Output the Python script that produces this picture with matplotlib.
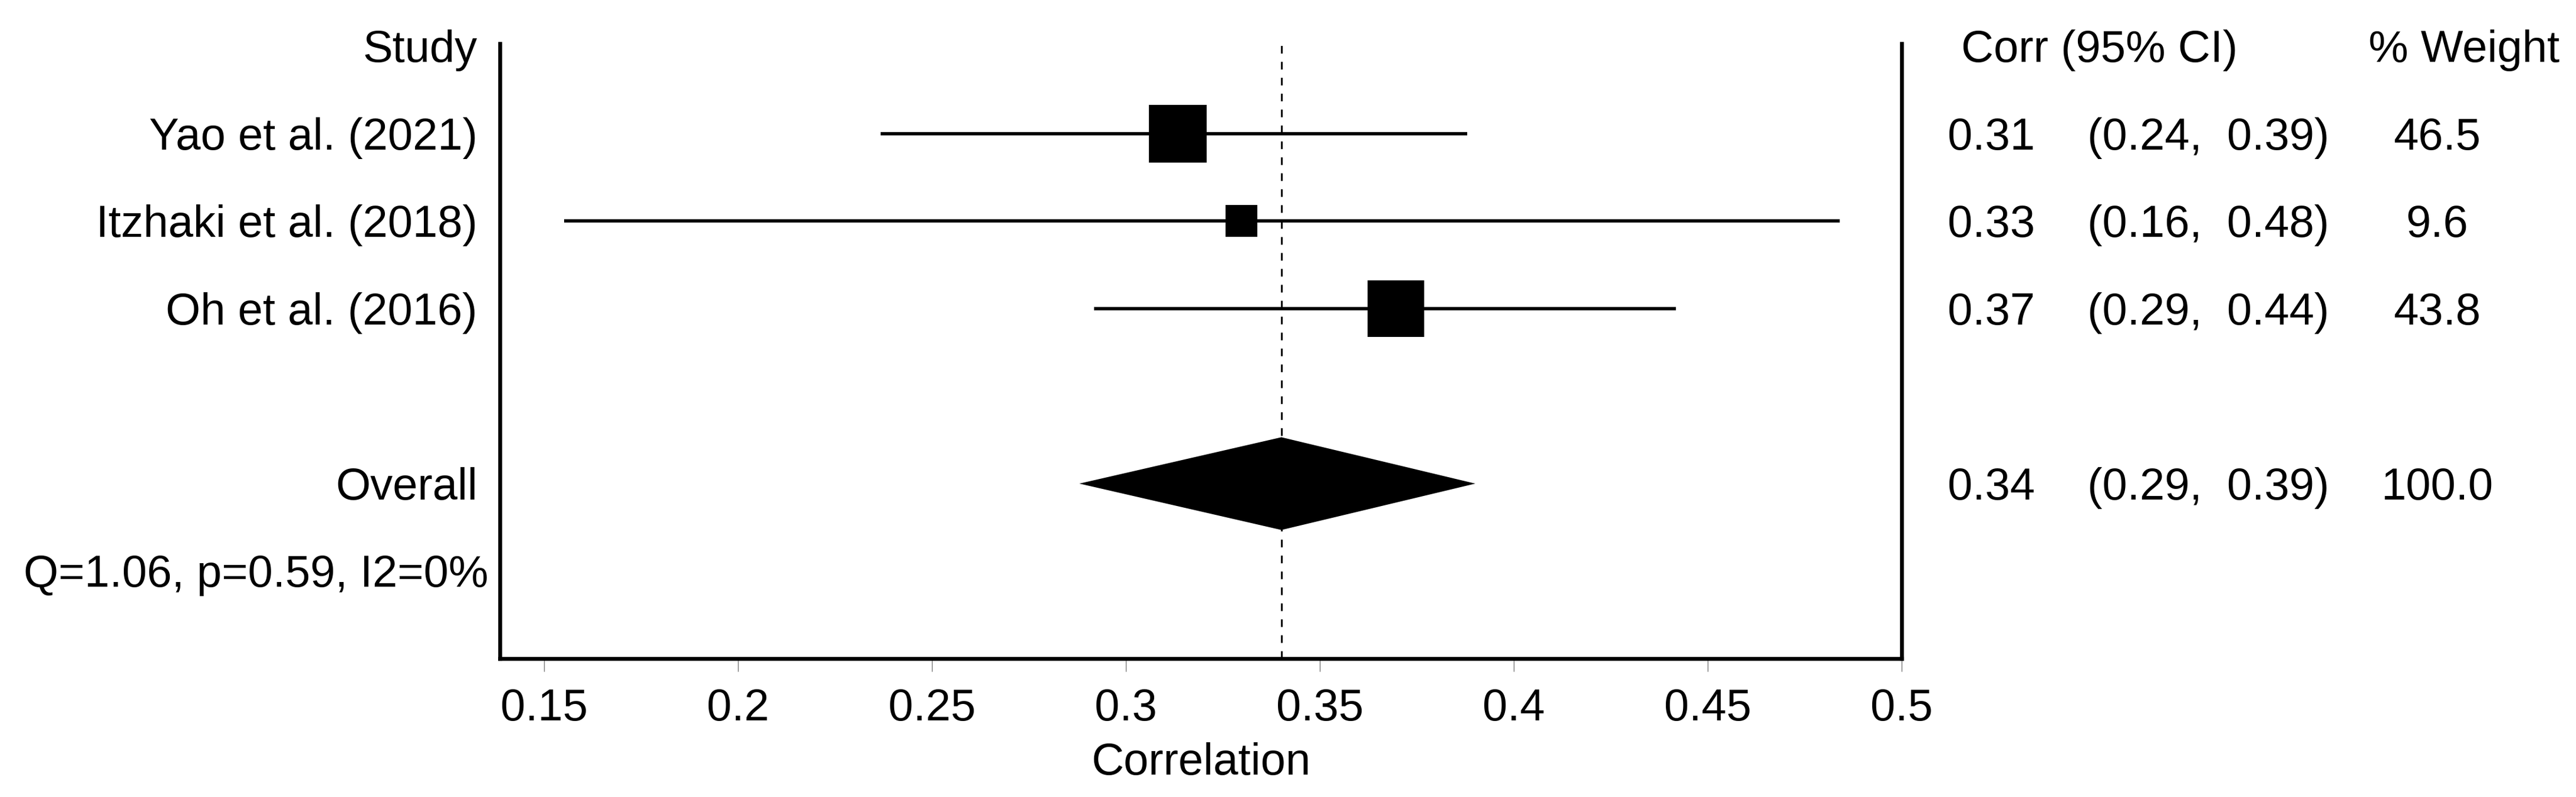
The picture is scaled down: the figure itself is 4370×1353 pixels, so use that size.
import matplotlib
matplotlib.use("Agg")
import matplotlib.pyplot as plt
import matplotlib.transforms as mtransforms
import numpy as np

plt.rcParams['font.family'] = ['Liberation Sans', 'DejaVu Sans']

# study data
studies = ["Yao et al. (2021)", "Itzhaki et al. (2018)", "Oh et al. (2016)"]
corr = [0.3134, 0.3298, 0.3696]
ci_low = [0.2368, 0.1552, 0.2918]
ci_high = [0.388, 0.484, 0.4418]
weight = [46.5, 9.6, 43.8]

# pooled estimate
overall_corr = 0.3401
overall_low = 0.288
overall_high = 0.3901
overall_weight = 100.0

# heterogeneity
q_stat = 1.06
p_value = 0.59
i2 = 0

xticks = [0.15, 0.2, 0.25, 0.3, 0.35, 0.4, 0.45, 0.5]
xtick_labels = ["0.15", "0.2", "0.25", "0.3", "0.35", "0.4", "0.45", "0.5"]

fs = 54.7
base = 0.18  # baseline offset (rows) so caps are centred on row

fig = plt.figure(figsize=(43.7, 13.53), dpi=100)
ax = fig.add_axes([0.19405, 0.1737, 0.7382 - 0.19405, 0.9453 - 0.1737])

rows = np.arange(1, len(studies) + 1)
overall_row = len(studies) + 2
q_row = overall_row + 1

# reference line at pooled estimate
ax.axvline(overall_corr, color='black', lw=2.2, linestyle=(0, (4.25, 4.6)), zorder=1)

# CI lines and boxes
for y, c, lo, hi, w in zip(rows, corr, ci_low, ci_high, weight):
    ax.plot([lo, hi], [y, y], color='black', lw=4, solid_capstyle='butt', zorder=2)
    side = 98 * 0.72 * (w / max(weight)) ** 0.37
    ax.plot(c, y, marker='s', ms=side, color='black', mew=0, zorder=3)

# diamond
h = 0.53
ax.fill([overall_low, overall_corr, overall_high, overall_corr],
        [overall_row, overall_row - h, overall_row, overall_row + h],
        color='black', lw=0, zorder=3)

ax.set_xlim(0.1386, 0.5)
ax.set_ylim(7, -0.03)

ax.spines['top'].set_visible(False)
for s in ['left', 'right', 'bottom']:
    ax.spines[s].set_linewidth(4.7)

ax.set_yticks([])
ax.set_xticks(xticks, xtick_labels)
ax.tick_params(axis='x', length=16, width=1, color='#777777', pad=20, labelsize=fs)
ax.set_xlabel("Correlation", fontsize=fs, labelpad=15)

trans = mtransforms.blended_transform_factory(fig.transFigure, ax.transData)

# header
ax.text(0.1853, 0 + base, "Study", transform=trans, ha='right', va='baseline', fontsize=fs)
ax.text(0.7613, 0 + base, "Corr (95% CI)", transform=trans, ha='left', va='baseline', fontsize=fs)
ax.text(0.9565, 0 + base, "% Weight", transform=trans, ha='center', va='baseline', fontsize=fs)

# study rows
for y, name, c, lo, hi, w in zip(rows, studies, corr, ci_low, ci_high, weight):
    ax.text(0.1853, y + base, name, transform=trans, ha='right', va='baseline', fontsize=fs)
    ax.text(0.7561, y + base, f"{c:.2f}", transform=trans, ha='left', va='baseline', fontsize=fs)
    ax.text(0.8103, y + base, f"({lo:.2f},  {hi:.2f})", transform=trans, ha='left', va='baseline', fontsize=fs)
    ax.text(0.946, y + base, f"{w:.1f}", transform=trans, ha='center', va='baseline', fontsize=fs)

# overall row
ax.text(0.1853, overall_row + base, "Overall", transform=trans, ha='right', va='baseline', fontsize=fs)
ax.text(0.7561, overall_row + base, f"{overall_corr:.2f}", transform=trans, ha='left', va='baseline', fontsize=fs)
ax.text(0.8103, overall_row + base, f"({overall_low:.2f},  {overall_high:.2f})", transform=trans,
        ha='left', va='baseline', fontsize=fs)
ax.text(0.946, overall_row + base, f"{overall_weight:.1f}", transform=trans, ha='center', va='baseline', fontsize=fs)

# heterogeneity
ax.text(0.1897, q_row + base, f"Q={q_stat:.2f}, p={p_value:.2f}, I2={i2}%", transform=trans,
        ha='right', va='baseline', fontsize=fs)

fig.savefig("out.png", dpi=100)
